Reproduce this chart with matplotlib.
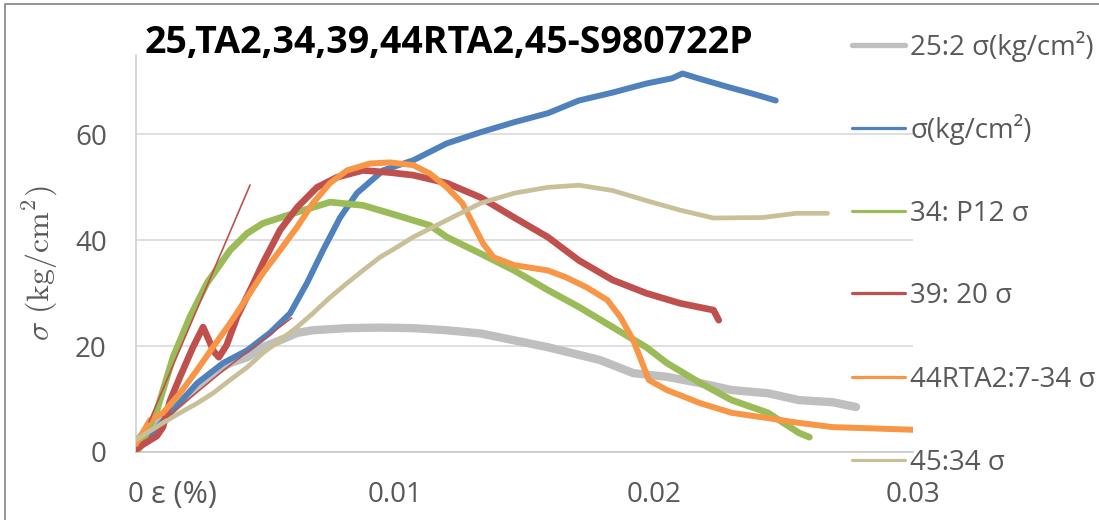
import matplotlib
matplotlib.use("Agg")
import matplotlib.pyplot as plt
from matplotlib import font_manager
from matplotlib.lines import Line2D

# strain (x) and stress (y)
gray_x = [0, 0.00104, 0.0017, 0.00236, 0.00297, 0.00363, 0.00429, 0.0049, 0.00556, 0.00622, 0.00683, 0.00815,
          0.00942, 0.0107, 0.0120, 0.0133, 0.0146, 0.0159, 0.0179, 0.0192, 0.0205, 0.0218, 0.0230, 0.0244,
          0.0256, 0.0269, 0.0278]
gray_y = [2.0, 6.6, 9.2, 12.3, 14.9, 16.8, 17.9, 19.8, 21.1, 22.5, 23.0, 23.4, 23.5, 23.4, 23.0, 22.4, 21.1, 19.8,
          17.4, 14.9, 14.2, 13.0, 11.7, 11.1, 9.8, 9.4, 8.5]

blue_x = [0, 0.00054, 0.00143, 0.00236, 0.00336, 0.00429, 0.00517, 0.00595, 0.0066, 0.00722, 0.00788, 0.00853,
          0.00954, 0.0107, 0.0120, 0.0133, 0.0146, 0.0159, 0.0171, 0.0184, 0.0197, 0.0207, 0.0211, 0.0217,
          0.0229, 0.0238, 0.0247]
blue_y = [0, 3.2, 7.9, 13.0, 16.8, 19.2, 22.5, 26.2, 31.9, 38.1, 44.3, 48.9, 53.2, 55.1, 58.3, 60.4, 62.3, 64.0,
          66.4, 67.9, 69.6, 70.6, 71.5, 70.6, 68.9, 67.7, 66.4]

green_x = [0, 0.00015, 0.00081, 0.00143, 0.00208, 0.00274, 0.00363, 0.00429, 0.0049, 0.00622, 0.00749, 0.00876,
           0.01008, 0.01135, 0.0120, 0.0133, 0.0146, 0.0159, 0.0171, 0.0184, 0.0197, 0.0205, 0.0218, 0.0230,
           0.0244, 0.0256, 0.0260]
green_y = [0, 0.9, 7.9, 17.9, 25.5, 31.9, 38.1, 41.3, 43.2, 45.3, 47.2, 46.6, 44.7, 42.8, 40.6, 37.5, 34.3, 30.6,
           27.4, 23.6, 19.8, 16.8, 13.0, 9.8, 7.4, 3.6, 2.8]

red_x = [0, 0.0003, 0.0008, 0.00104, 0.0013, 0.0017, 0.0022, 0.00259, 0.0028, 0.0030, 0.0032, 0.0035, 0.0039,
         0.0045, 0.0049, 0.00556, 0.00622, 0.00699, 0.00776, 0.00876, 0.0098, 0.0107, 0.0120, 0.0133, 0.0146,
         0.0159, 0.0171, 0.0184, 0.0197, 0.0210, 0.0223, 0.0225]
red_y = [0.5, 1.5, 3.0, 4.7, 9.5, 14.2, 19.8, 23.6, 21.3, 19.0, 17.9, 20.2, 25.5, 31.5, 35.7, 41.9, 46.2, 50.0,
         51.9, 53.2, 52.8, 52.3, 50.8, 48.1, 44.3, 40.6, 36.2, 32.5, 30.0, 28.1, 26.8, 24.9]

orange_x = [0, 0.00054, 0.00104, 0.0017, 0.00236, 0.00297, 0.00363, 0.00429, 0.0049, 0.00556, 0.00622, 0.00683,
            0.00749, 0.00815, 0.00903, 0.0098, 0.0107, 0.01135, 0.0120, 0.0126, 0.0130, 0.0134, 0.0138, 0.0146,
            0.0159, 0.0166, 0.0174, 0.0182, 0.0187, 0.0192, 0.0195, 0.0198, 0.0205, 0.0218, 0.0230, 0.0244,
            0.0256, 0.0269, 0.0282, 0.0300]
orange_y = [1.5, 6.0, 7.4, 11.1, 15.5, 19.8, 24.3, 29.2, 33.8, 38.1, 42.5, 47.0, 50.8, 53.2, 54.5, 54.7, 54.2,
            52.6, 50.0, 47.0, 43.2, 39.4, 36.8, 35.3, 34.3, 33.0, 31.1, 28.7, 25.5, 21.1, 17.4, 13.6, 11.7, 9.2,
            7.4, 6.4, 5.5, 4.7, 4.5, 4.2]

tan_x = [0, 0.00042, 0.00104, 0.0017, 0.00236, 0.00297, 0.00363, 0.00429, 0.0049, 0.00556, 0.00622, 0.00683,
         0.00749, 0.00815, 0.00876, 0.00942, 0.01008, 0.0107, 0.0120, 0.0133, 0.0146, 0.0159, 0.0171, 0.0184,
         0.0197, 0.0210, 0.0223, 0.0242, 0.0255, 0.0267]
tan_y = [2.3, 3.6, 5.5, 7.4, 9.2, 11.1, 13.6, 16.0, 18.7, 21.1, 23.6, 26.2, 29.2, 31.9, 34.3, 36.8, 38.7, 40.6,
         43.8, 47.0, 48.9, 50.0, 50.4, 49.4, 47.5, 45.7, 44.2, 44.3, 45.1, 45.1]

# thin red guide lines near the origin
guide1_x = [0.0005, 0.0044]
guide1_y = [5.7, 50.4]
guide2_x = [0.0012, 0.0034, 0.0060]
guide2_y = [6.6, 15.5, 25.3]

labels = ["25:2 σ(kg/cm²)", "σ(kg/cm²)", "34: P12 σ", "39: 20 σ", "44RTA2:7-34 σ", "45:34 σ"]
colors = ["#BFBFBF", "#4F81BD", "#9BBB59", "#C0504D", "#F79646", "#C9BF98"]
x_ticks = [0, 0.01, 0.02, 0.03]
x_tick_labels = ["0", "0.01", "0.02", "0.03"]
y_ticks = [0, 20, 40, 60]
title = "25,TA2,34,39,44RTA2,45-S980722P"

W, H = 1099, 520


def fx(px):
    return px / W


def fy(py):
    return 1 - py / H


def main():
    names = {f.name for f in font_manager.fontManager.ttflist}
    body_font = ["Open Sans", "DejaVu Sans"]
    narrow = "Liberation Sans Narrow" in names
    title_font = "Liberation Sans Narrow" if narrow else "Open Sans"
    title_size = 31 if narrow else 27
    plt.rcParams["font.family"] = body_font
    plt.rcParams["mathtext.fontset"] = "cm"
    text_color = "#595959"

    fig = plt.figure(figsize=(W / 100, H / 100), dpi=100)
    ax = fig.add_axes([fx(136), fy(452), fx(913) - fx(136), fy(55) - fy(452)])

    series = [(gray_x, gray_y, 6.0), (blue_x, blue_y, 4.3), (green_x, green_y, 4.8),
              (red_x, red_y, 4.8), (orange_x, orange_y, 4.3), (tan_x, tan_y, 3.4)]
    for (xs, ys, lw), color in zip(series, colors):
        ax.plot(xs, ys, color=color, lw=lw, solid_capstyle="round", solid_joinstyle="round", zorder=3)
    ax.plot(guide1_x, guide1_y, color="#C0504D", lw=1.2, zorder=4)
    ax.plot(guide2_x, guide2_y, color="#C0504D", lw=1.2, zorder=4)

    ax.set_xlim(0, 0.03)
    ax.set_ylim(0, 75)
    ax.set_xticks(x_ticks)
    ax.set_xticklabels(x_tick_labels)
    ax.set_yticks(y_ticks)
    ax.tick_params(axis="both", length=0, labelsize=20, labelcolor=text_color)
    ax.tick_params(axis="y", pad=21)
    ax.tick_params(axis="x", pad=21)
    ax.grid(axis="y", color="#D9D9D9", lw=1.2, zorder=0)
    for side in ["top", "right"]:
        ax.spines[side].set_visible(False)
    ax.spines["left"].set_color("#D0D0D0")
    ax.spines["bottom"].set_color("#C8C8C8")
    ax.spines["left"].set_linewidth(1.2)
    ax.spines["bottom"].set_linewidth(1.2)

    fig.text(fx(40), 0.5 * (fy(185) + fy(342)), r"$\sigma\ (\mathrm{kg/cm}^{2})$", fontsize=23,
             color=text_color, rotation=90, ha="center", va="center")

    fig.text(fx(151), fy(503), "ε (%)", fontsize=22, color=text_color, va="baseline", ha="left")
    fig.text(fx(145), fy(53), title, fontsize=title_size, fontweight="bold", family=[title_font, "DejaVu Sans"],
             color="black", va="baseline", ha="left")

    # legend, stacked on the right
    legend_rows = [45, 128, 211, 293, 377, 460]
    legend_lw = [3.8, 2.3, 2.3, 2.3, 2.3, 2.3]
    for label, color, row, lw in zip(labels, colors, legend_rows, legend_lw):
        fig.add_artist(Line2D([fx(852), fx(905)], [fy(row), fy(row)], color=color, lw=lw,
                              transform=fig.transFigure, solid_capstyle="round"))
        fig.text(fx(910), fy(row + 10), label, fontsize=20, color=text_color, va="baseline", ha="left")

    # chart frame (left and top edges visible)
    fig.add_artist(Line2D([fx(5), fx(5), fx(1099)], [fy(520), fy(4), fy(4)], color="#8C8C8C", lw=1.3,
                          transform=fig.transFigure))

    fig.savefig("out.png", dpi=100)
    plt.close(fig)
    return 0


if __name__ == "__main__":
    raise SystemExit(main())
